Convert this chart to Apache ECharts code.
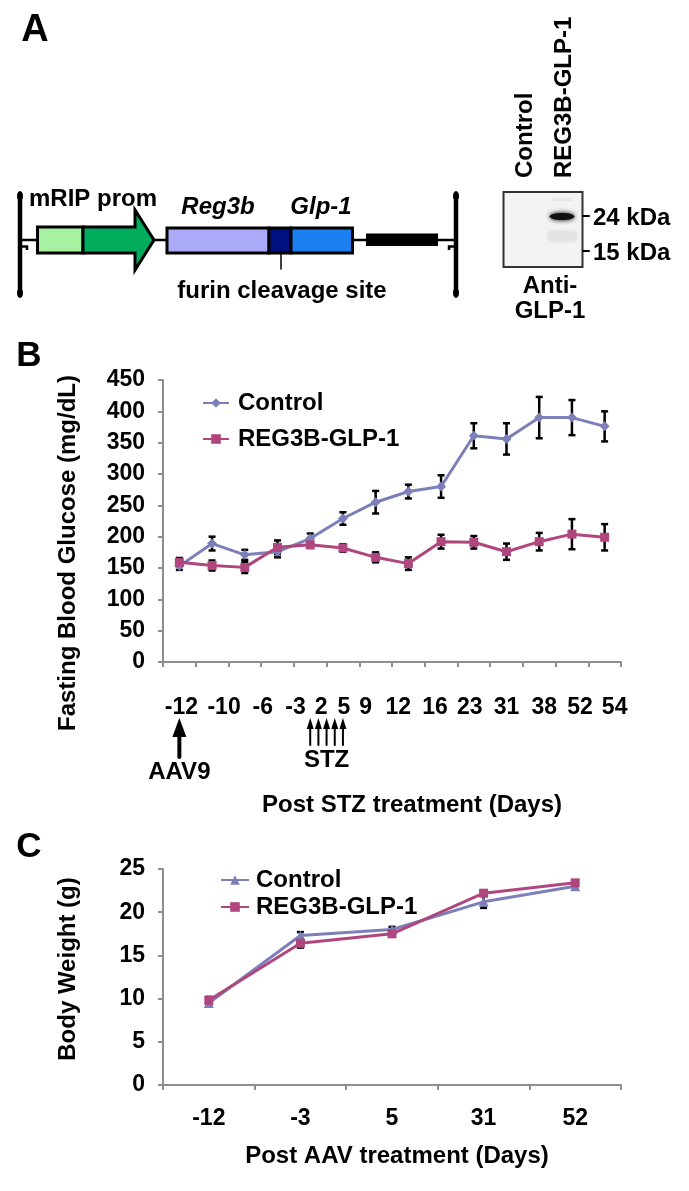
<!DOCTYPE html>
<html>
<head>
<meta charset="utf-8">
<title>REG3B-GLP-1</title>
<script src="https://cdn.jsdelivr.net/npm/echarts@6/dist/echarts.min.js"></script>
<style>
html, body { margin: 0; padding: 0; background: #fff; }
#main { width: 689px; height: 1191px; }
</style>
</head>
<body>
<div id="main"></div>
<script>
// panel B - fasting blood glucose (mg/dL)
var daysB = ['-12', '-10', '-6', '-3', '2', '5', '9', '12', '16', '23', '31', '38', '52', '54'];
var glucoseCtrl = [153, 189, 171, 176, 197, 229, 255, 272, 280, 361, 356, 390, 390, 376];
var glucoseCtrlErr = [6, 11, 8, 9, 8, 10, 18, 11, 18, 20, 25, 33, 28, 24];
var glucoseReg = [159, 154, 151, 183, 187, 182, 167, 157, 192, 191, 176, 192, 204, 199];
var glucoseRegErr = [7, 8, 9, 11, 5, 6, 8, 10, 11, 10, 13, 14, 24, 21];

// panel C - body weight (g)
var daysC = ['-12', '-3', '5', '31', '52'];
var weightCtrl = [9.5, 17.3, 18.0, 21.2, 23.0];
var weightCtrlErr = [0.3, 0.4, 0.3, 0.7, 0.3];
var weightReg = [9.8, 16.4, 17.5, 22.2, 23.4];
var weightRegErr = [0.4, 0.5, 0.3, 0.3, 0.3];

// day labels under B were a typed text row, so they sit a bit off the points
var labelShiftB = [2, 12, 18, 18, 11, 1, -10, -10, -6, -4, 0, 5, 8, 10];

var FONT = "'Liberation Sans', Arial, sans-serif";
var CTRL = '#7c7fb8';
var REG = '#b0467e';
var AXIS = '#8e8e8e';

function bold(size) {
    return 'bold ' + size + 'px ' + FONT;
}

function errorBars(xi, values, errs) {
    return {
        type: 'custom',
        xAxisIndex: xi,
        yAxisIndex: xi,
        silent: true,
        z: 1,
        data: values.map(function (v, i) { return [i, v - errs[i], v + errs[i]]; }),
        renderItem: function (params, api) {
            var lo = api.coord([api.value(0), api.value(1)]);
            var hi = api.coord([api.value(0), api.value(2)]);
            var w = 3.5;
            var st = { stroke: '#000', lineWidth: 2.5 };
            return {
                type: 'group',
                children: [
                    { type: 'line', shape: { x1: lo[0], y1: lo[1], x2: hi[0], y2: hi[1] }, style: st },
                    { type: 'line', shape: { x1: lo[0] - w, y1: lo[1], x2: lo[0] + w, y2: lo[1] }, style: st },
                    { type: 'line', shape: { x1: hi[0] - w, y1: hi[1], x2: hi[0] + w, y2: hi[1] }, style: st }
                ]
            };
        }
    };
}

var richB = {};
labelShiftB.forEach(function (s, i) {
    richB['i' + i] = {
        fontSize: 23, fontWeight: 'bold', fontFamily: FONT, color: '#000',
        padding: s >= 0 ? [0, 0, 0, 2 * s] : [0, -2 * s, 0, 0]
    };
});

var axisCommon = {
    axisLine: { show: true, lineStyle: { color: AXIS, width: 2 } },
    axisTick: { show: true, length: 5, lineStyle: { color: AXIS, width: 2 } },
    splitLine: { show: false }
};

var myChart = echarts.init(document.getElementById('main'));

var option = {
    animation: false,
    backgroundColor: '#fff',
    textStyle: { fontFamily: FONT },
    grid: [
        { left: 163, top: 380, width: 458, height: 282 },
        { left: 163, top: 869, width: 458, height: 216 }
    ]
};

option.xAxis = [
    Object.assign({}, axisCommon, {
        type: 'category', gridIndex: 0, data: daysB, boundaryGap: true,
        axisLabel: {
            interval: 0, margin: 34,
            formatter: function (value, index) { return '{i' + index + '|' + value + '}'; },
            rich: richB
        }
    }),
    Object.assign({}, axisCommon, {
        type: 'category', gridIndex: 1, data: daysC, boundaryGap: true,
        axisLabel: { interval: 0, margin: 22, fontSize: 23, fontWeight: 'bold', color: '#000' }
    })
];

option.yAxis = [
    Object.assign({}, axisCommon, {
        type: 'value', gridIndex: 0, min: 0, max: 450, interval: 50,
        axisLabel: { margin: 18, fontSize: 23, fontWeight: 'bold', color: '#000' }
    }),
    Object.assign({}, axisCommon, {
        type: 'value', gridIndex: 1, min: 0, max: 25, interval: 5,
        axisLabel: { margin: 18, fontSize: 23, fontWeight: 'bold', color: '#000' }
    })
];

option.legend = [
    {
        orient: 'vertical', left: 197, top: 386, itemWidth: 26, itemHeight: 12, itemGap: 12,
        data: ['Control', 'REG3B-GLP-1'],
        textStyle: { fontSize: 24, fontWeight: 'bold', color: '#000', lineHeight: 24, padding: [0, 0, 0, 4] }
    },
    {
        orient: 'vertical', left: 215, top: 863, itemWidth: 28, itemHeight: 12, itemGap: 3,
        data: ['C:Control', 'C:REG3B-GLP-1'],
        formatter: function (name) { return name.replace('C:', ''); },
        textStyle: { fontSize: 24, fontWeight: 'bold', color: '#000', lineHeight: 24, padding: [0, 0, 0, 2] }
    }
];

option.series = [
    errorBars(0, glucoseCtrl, glucoseCtrlErr),
    errorBars(0, glucoseReg, glucoseRegErr),
    {
        name: 'Control', type: 'line', xAxisIndex: 0, yAxisIndex: 0, z: 3,
        data: glucoseCtrl, symbol: 'diamond', symbolSize: 10,
        itemStyle: { color: CTRL }, lineStyle: { color: CTRL, width: 3 }
    },
    {
        name: 'REG3B-GLP-1', type: 'line', xAxisIndex: 0, yAxisIndex: 0, z: 3,
        data: glucoseReg, symbol: 'rect', symbolSize: 9,
        itemStyle: { color: REG }, lineStyle: { color: REG, width: 3 }
    },
    errorBars(1, weightCtrl, weightCtrlErr),
    errorBars(1, weightReg, weightRegErr),
    {
        name: 'C:Control', type: 'line', xAxisIndex: 1, yAxisIndex: 1, z: 3,
        data: weightCtrl, symbol: 'triangle', symbolSize: 10,
        itemStyle: { color: CTRL }, lineStyle: { color: CTRL, width: 3 }
    },
    {
        name: 'C:REG3B-GLP-1', type: 'line', xAxisIndex: 1, yAxisIndex: 1, z: 3,
        data: weightReg, symbol: 'rect', symbolSize: 9,
        itemStyle: { color: REG }, lineStyle: { color: REG, width: 3 }
    }
];

myChart.setOption(option);

// text helper for the graphic layer
function txt(x, y, s, size, opts) {
    opts = opts || {};
    return {
        type: 'text', x: x, y: y, rotation: opts.rot || 0, z: 10,
        style: {
            text: s, font: (opts.italic ? 'italic ' : '') + bold(size), fill: '#000',
            textAlign: opts.align || 'center', textVerticalAlign: 'middle',
            align: opts.align || 'center', verticalAlign: 'middle'
        }
    };
}
function seg(x1, y1, x2, y2, w) {
    return { type: 'line', z: 5, shape: { x1: x1, y1: y1, x2: x2, y2: y2 }, style: { stroke: '#000', lineWidth: w || 2.5, lineCap: 'round' } };
}

var g = [];

// panel letters
g.push(txt(35, 31, 'A', 38), txt(29, 356, 'B', 35), txt(29, 847, 'C', 35));

// ----- panel A: construct diagram -----
g.push(seg(20, 240, 456, 240, 2.5));
g.push(seg(20, 194, 20, 295, 4.5), seg(456, 194, 456, 295, 4.5));
g.push({ type: 'ellipse', z: 5, shape: { cx: 20, cy: 196, rx: 3, ry: 5 }, style: { fill: '#000' } });
g.push({ type: 'ellipse', z: 5, shape: { cx: 20, cy: 293, rx: 3, ry: 5 }, style: { fill: '#000' } });
g.push({ type: 'ellipse', z: 5, shape: { cx: 456, cy: 196, rx: 3, ry: 5 }, style: { fill: '#000' } });
g.push({ type: 'ellipse', z: 5, shape: { cx: 456, cy: 293, rx: 3, ry: 5 }, style: { fill: '#000' } });
g.push({ type: 'polyline', z: 5, shape: { points: [[20, 246.5], [27, 246.5], [27, 250]] }, style: { stroke: '#000', lineWidth: 2.5, fill: null } });
g.push({ type: 'polyline', z: 5, shape: { points: [[456, 246.5], [449, 246.5], [449, 250]] }, style: { stroke: '#000', lineWidth: 2.5, fill: null } });
g.push({ type: 'rect', z: 6, shape: { x: 37.5, y: 227, width: 45.5, height: 26 }, style: { fill: '#a6f2a0', stroke: '#000', lineWidth: 3 } });
g.push({ type: 'polygon', z: 6, shape: { points: [[83, 227], [135, 227], [135, 210], [154, 240], [135, 270], [135, 253], [83, 253]] }, style: { fill: '#00ad5c', stroke: '#000', lineWidth: 3 } });
g.push({ type: 'rect', z: 6, shape: { x: 167, y: 228, width: 102, height: 25 }, style: { fill: '#aaaaf8', stroke: '#000', lineWidth: 3 } });
g.push({ type: 'rect', z: 6, shape: { x: 269, y: 228, width: 22, height: 25 }, style: { fill: '#001080', stroke: '#000', lineWidth: 3 } });
g.push({ type: 'rect', z: 6, shape: { x: 291, y: 228, width: 61.5, height: 25 }, style: { fill: '#1b7ff0', stroke: '#000', lineWidth: 3 } });
g.push({ type: 'rect', z: 6, shape: { x: 366, y: 233.5, width: 72, height: 12.5 }, style: { fill: '#000' } });
g.push(seg(281, 253, 281, 269, 1.5));
g.push(txt(29, 199, 'mRIP prom', 24, { align: 'left' }));
g.push(txt(218, 207, 'Reg3b', 24, { italic: true }));
g.push(txt(321, 207, 'Glp-1', 24, { italic: true }));
g.push(txt(282, 291, 'furin cleavage site', 24));

// western blot
g.push({ type: 'rect', z: 5, shape: { x: 503.5, y: 192, width: 79, height: 75 }, style: { fill: '#f3f3f3', stroke: '#333', lineWidth: 2 } });
g.push({ type: 'rect', z: 6, shape: { x: 549, y: 232, width: 27, height: 8 }, style: { fill: '#e2e2e2', shadowBlur: 4, shadowColor: '#ccc' } });
g.push({ type: 'rect', z: 6, shape: { x: 552, y: 198, width: 20, height: 3 }, style: { fill: '#e6e6e6' } });
g.push({ type: 'ellipse', z: 7, shape: { cx: 562, cy: 216.5, rx: 12.5, ry: 3.5 }, style: { fill: '#111', shadowBlur: 5, shadowColor: '#000' } });
g.push(seg(583, 216, 589, 216, 2), seg(583, 251, 589, 251, 2));
g.push(txt(593, 218, '24 kDa', 24, { align: 'left' }), txt(593, 253, '15 kDa', 24, { align: 'left' }));
g.push(txt(525, 178, 'Control', 24, { align: 'left', rot: Math.PI / 2 }));
g.push(txt(564, 178, 'REG3B-GLP-1', 24, { align: 'left', rot: Math.PI / 2 }));
g.push(txt(550, 286, 'Anti-', 24), txt(550, 311, 'GLP-1', 24));

// ----- axis titles -----
g.push(txt(68, 553, 'Fasting Blood Glucose (mg/dL)', 24, { rot: Math.PI / 2 }));
g.push(txt(412, 805, 'Post STZ treatment (Days)', 24));
g.push(txt(68, 969, 'Body Weight (g)', 24, { rot: Math.PI / 2 }));
g.push(txt(397, 1156, 'Post AAV treatment (Days)', 24));

// ----- treatment arrows, placed from the axis scale -----
var xAav = myChart.convertToPixel({ xAxisIndex: 0 }, 0);
var xStz0 = myChart.convertToPixel({ xAxisIndex: 0 }, daysB.indexOf('2'));
var xStz1 = myChart.convertToPixel({ xAxisIndex: 0 }, daysB.indexOf('5'));

g.push(seg(xAav, 734, xAav, 757, 4));
g.push({ type: 'polygon', z: 5, shape: { points: [[xAav - 7, 737], [xAav + 7, 737], [xAav, 718]] }, style: { fill: '#000' } });
g.push(txt(xAav, 772, 'AAV9', 24));
for (var k = 0; k < 5; k++) {
    var ax = xStz0 + k * (xStz1 - xStz0) / 4;
    g.push(seg(ax, 727, ax, 745, 2));
    g.push({ type: 'polygon', z: 5, shape: { points: [[ax - 3.5, 729], [ax + 3.5, 729], [ax, 718]] }, style: { fill: '#000' } });
}
g.push(txt((xStz0 + xStz1) / 2, 760, 'STZ', 24));

myChart.setOption({ graphic: g });

window.addEventListener('resize', function () {
    myChart.resize();
});
</script>
</body>
</html>
